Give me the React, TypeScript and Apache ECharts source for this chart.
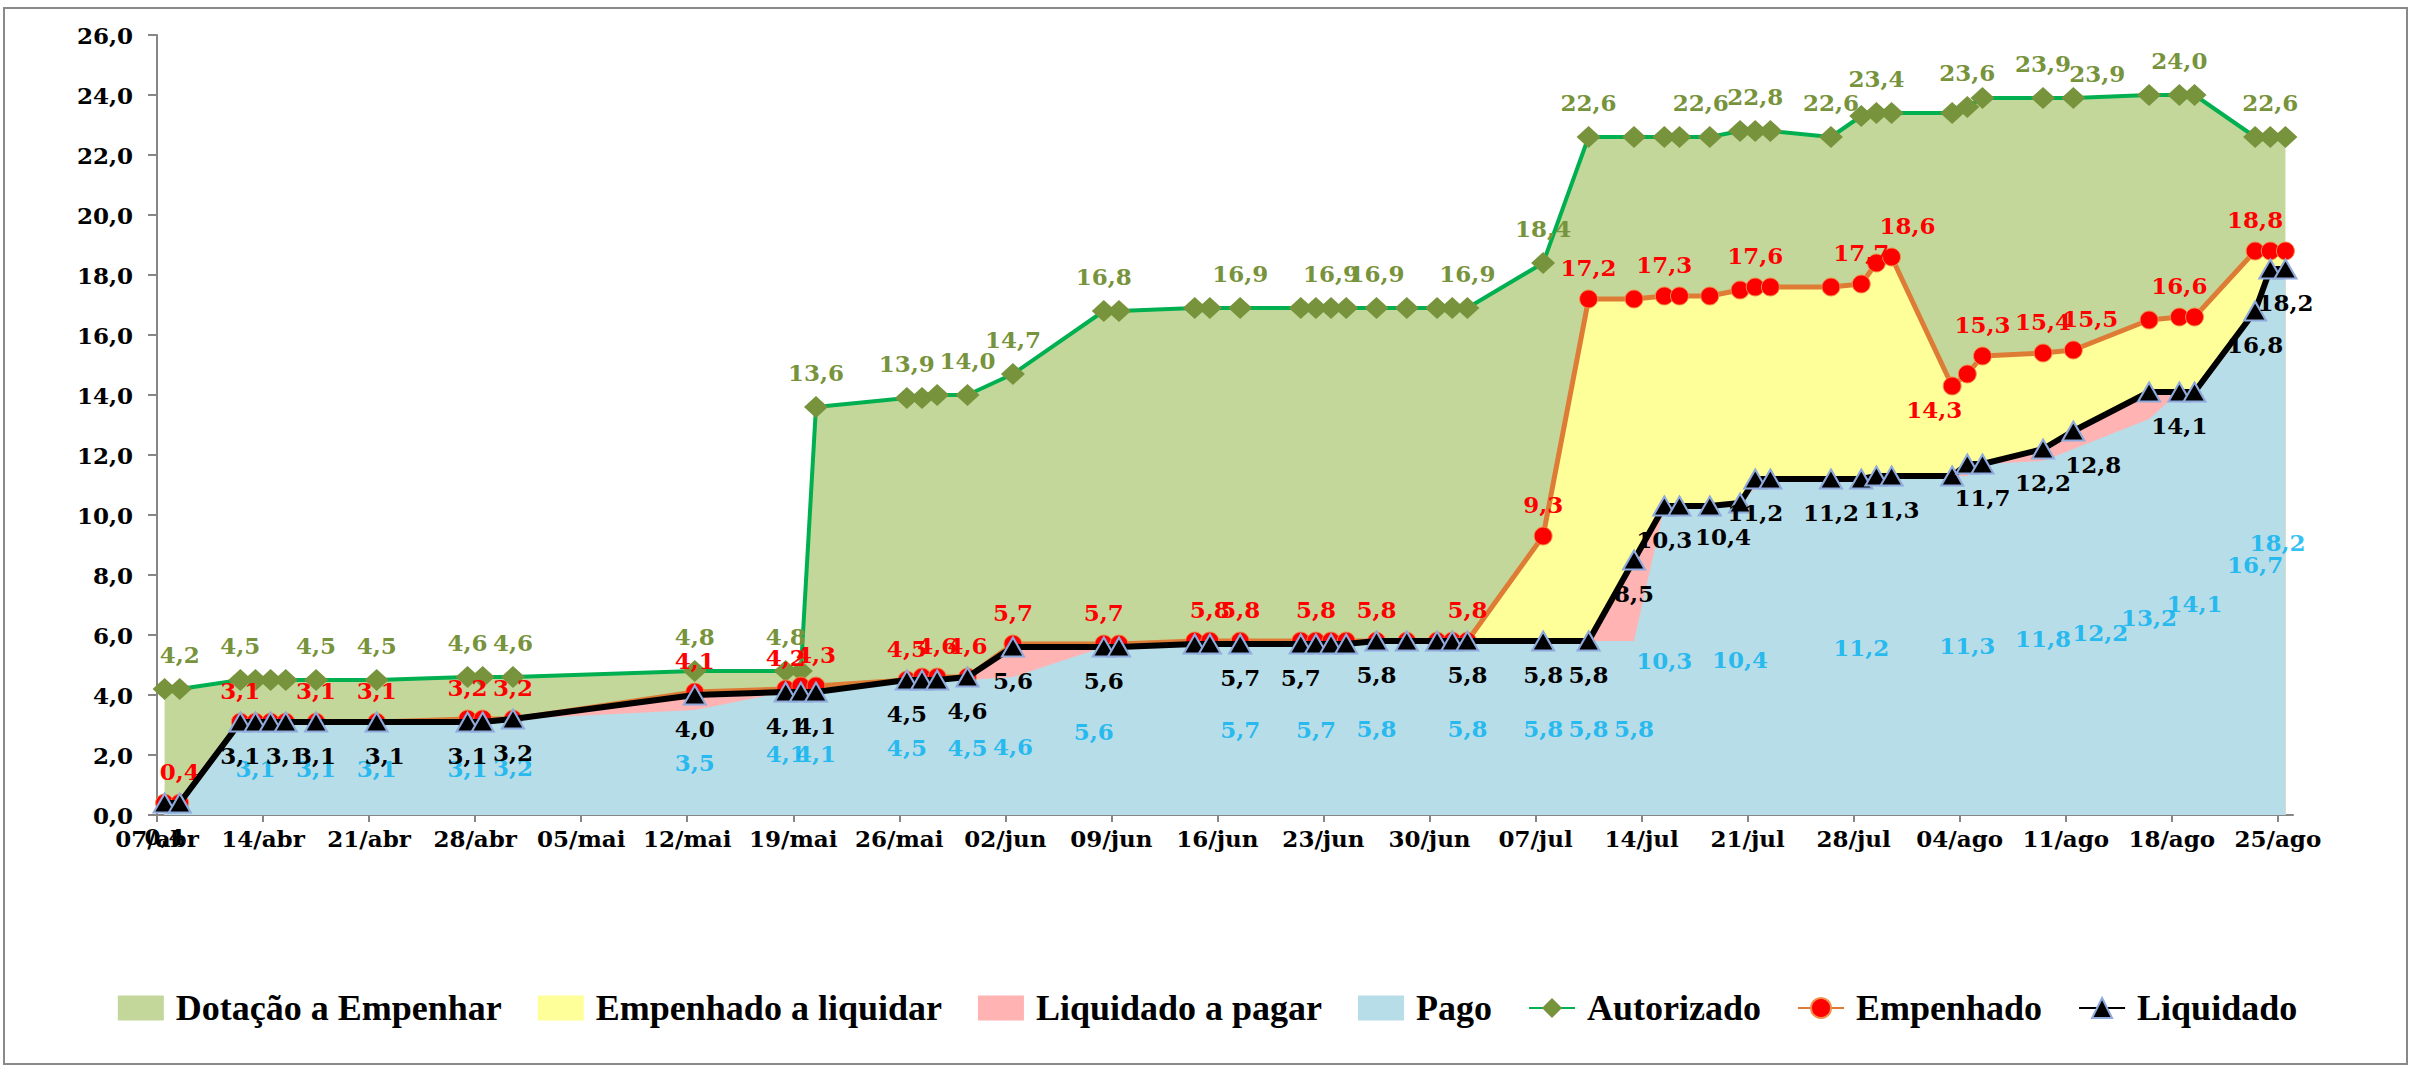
import React, { useEffect, useRef } from 'react';
import * as echarts from 'echarts';

// ---------- data ----------
const YEAR = 2025;
const axisStart = '04-07';
const axisEnd = '08-26';

const tickLabels = [
  '07/abr', '14/abr', '21/abr', '28/abr', '05/mai', '12/mai', '19/mai', '26/mai', '02/jun', '09/jun', '16/jun',
  '23/jun', '30/jun', '07/jul', '14/jul', '21/jul', '28/jul', '04/ago', '11/ago', '18/ago', '25/ago',
];

const pointDates = [
  '04-07', '04-08', '04-12', '04-13', '04-14', '04-15', '04-17', '04-21', '04-27', '04-28', '04-30',
  '05-12', '05-18', '05-19', '05-20', '05-26', '05-27', '05-28', '05-30',
  '06-02', '06-08', '06-09', '06-14', '06-15', '06-17', '06-21', '06-22', '06-23', '06-24', '06-26', '06-28', '06-30',
  '07-01', '07-02', '07-07', '07-10', '07-13', '07-15', '07-16', '07-18', '07-20', '07-21', '07-22', '07-26', '07-28', '07-29', '07-30',
  '08-03', '08-04', '08-05', '08-09', '08-11', '08-16', '08-18', '08-19', '08-23', '08-24', '08-25',
];

const autorizado = [
  4.2, 4.2, 4.5, 4.5, 4.5, 4.5, 4.5, 4.5, 4.6, 4.6, 4.6,
  4.8, 4.8, 4.8, 13.6, 13.9, 13.9, 14.0, 14.0,
  14.7, 16.8, 16.8, 16.9, 16.9, 16.9, 16.9, 16.9, 16.9, 16.9, 16.9, 16.9, 16.9,
  16.9, 16.9, 18.4, 22.6, 22.6, 22.6, 22.6, 22.6, 22.8, 22.8, 22.8, 22.6, 23.3, 23.4, 23.4,
  23.4, 23.6, 23.9, 23.9, 23.9, 24.0, 24.0, 24.0, 22.6, 22.6, 22.6,
];

const empenhado = [
  0.4, 0.4, 3.1, 3.1, 3.1, 3.1, 3.1, 3.1, 3.2, 3.2, 3.2,
  4.1, 4.2, 4.3, 4.3, 4.5, 4.6, 4.6, 4.6,
  5.7, 5.7, 5.7, 5.8, 5.8, 5.8, 5.8, 5.8, 5.8, 5.8, 5.8, 5.8, 5.8,
  5.8, 5.8, 9.3, 17.2, 17.2, 17.3, 17.3, 17.3, 17.5, 17.6, 17.6, 17.6, 17.7, 18.4, 18.6,
  14.3, 14.7, 15.3, 15.4, 15.5, 16.5, 16.6, 16.6, 18.8, 18.8, 18.8,
];

const liquidado = [
  0.4, 0.4, 3.1, 3.1, 3.1, 3.1, 3.1, 3.1, 3.1, 3.1, 3.2,
  4.0, 4.1, 4.1, 4.1, 4.5, 4.5, 4.5, 4.6,
  5.6, 5.6, 5.6, 5.7, 5.7, 5.7, 5.7, 5.7, 5.7, 5.7, 5.8, 5.8, 5.8,
  5.8, 5.8, 5.8, 5.8, 8.5, 10.3, 10.3, 10.3, 10.4, 11.2, 11.2, 11.2, 11.2, 11.3, 11.3,
  11.3, 11.7, 11.7, 12.2, 12.8, 14.1, 14.1, 14.1, 16.8, 18.2, 18.2,
];

const pago = [
  0.4, 0.4, 3.1, 3.1, 3.1, 3.1, 3.1, 3.1, 3.1, 3.1, 3.2,
  3.5, 4.1, 4.1, 4.1, 4.5, 4.5, 4.5, 4.5,
  4.6, 5.6, 5.6, 5.7, 5.7, 5.7, 5.7, 5.7, 5.7, 5.7, 5.8, 5.8, 5.8,
  5.8, 5.8, 5.8, 5.8, 5.8, 10.3, 10.3, 10.3, 10.4, 10.9, 11.2, 11.2, 11.2, 11.3, 11.3,
  11.3, 11.3, 11.7, 11.8, 12.2, 13.2, 14.1, 14.1, 16.7, 18.2, 18.2,
];

// points whose value is written on the chart
const autorizadoLabelDates = [
  '04-08', '04-12', '04-17', '04-21', '04-27', '04-30', '05-12', '05-18', '05-20', '05-26', '05-30', '06-02',
  '06-08', '06-17', '06-23', '06-26', '07-02', '07-07', '07-10', '07-18', '07-21', '07-26', '07-29', '08-04',
  '08-09', '08-11', '08-18', '08-24',
];
const empenhadoLabelDates = [
  '04-08', '04-12', '04-17', '04-21', '04-27', '04-30', '05-12', '05-18', '05-20', '05-26', '05-28', '05-30',
  '06-02', '06-08', '06-15', '06-17', '06-22', '06-26', '07-02', '07-07', '07-10', '07-15', '07-21', '07-28',
  '07-30', '08-03', '08-05', '08-09', '08-11', '08-18', '08-23',
];
const liquidadoLabelDates = [
  '04-07', '04-12', '04-15', '04-17', '04-21', '04-27', '04-30', '05-12', '05-18', '05-20', '05-26', '05-30',
  '06-02', '06-08', '06-17', '06-21', '06-26', '07-02', '07-07', '07-10', '07-13', '07-15', '07-20', '07-21',
  '07-26', '07-30', '08-05', '08-09', '08-11', '08-18', '08-23', '08-25',
];
const pagoLabelDates = [
  '04-13', '04-17', '04-21', '04-27', '04-30', '05-12', '05-18', '05-20', '05-26', '05-30', '06-02', '06-08',
  '06-17', '06-22', '06-26', '07-02', '07-07', '07-10', '07-13', '07-15', '07-20', '07-28', '08-04', '08-09',
  '08-11', '08-16', '08-19', '08-23', '08-25',
];

// ---------- layout / style ----------
const labelNudges: Record<string, number[]> = {
  'aut:08-11': [24, 10],
  'aut:07-18': [-9, 0],
  'emp:07-30': [16, 0],
  'emp:08-03': [-18, 0],
  'emp:08-11': [17, 0],
  'liq:07-20': [-17, 0],
  'liq:08-11': [20, 0],
  'liq:04-21': [8, 0],
  'pago:08-11': [27, 0],
  'pago:06-08': [-10, 0],
  'pago:08-25': [-8, 0],
};
const labelBelow: Record<string, boolean> = { 'emp:08-03': true };

const NUM_FONT = { fontFamily: '"DejaVu Serif", serif', fontWeight: 'bold' as const, fontSize: 23 };
const fmt = (v: number) => v.toFixed(1).replace('.', ',');

const dayOf = (md: string) => {
  const [m, d] = md.split('-').map(Number);
  const [m0, d0] = axisStart.split('-').map(Number);
  return (Date.UTC(YEAR, m - 1, d) - Date.UTC(YEAR, m0 - 1, d0)) / 86400000;
};

export default function App() {
  const ref = useRef<HTMLDivElement>(null);

  useEffect(() => {
    document.body.style.margin = '0';
    if (!ref.current) return;
    const chart = echarts.init(ref.current, undefined, { renderer: 'svg' });

    const xs = pointDates.map((d) => dayOf(d) + 0.5);

    const lineData = (vals: number[], labelDates: string[], key: string) =>
      vals.map((v, i) => {
        const d = pointDates[i];
        const item: any = { value: [xs[i], v] };
        if (labelDates.includes(d)) {
          const lab: any = { show: true };
          const n = labelNudges[key + ':' + d];
          if (n) lab.offset = n;
          if (labelBelow[key + ':' + d]) {
            lab.position = 'bottom';
            lab.distance = 2;
          }
          item.label = lab;
        }
        return item;
      });

    // Each band is filled from the axis up to its upper bound; later bands cover the lower part,
    // so the visible band equals the difference between consecutive cumulative totals.
    const areaSeries = (name: string, color: string, upper: number[]) => ({
      name,
      type: 'line',
      data: upper.map((v, i) => [xs[i], v]),
      symbol: 'none',
      showSymbol: false,
      color,
      itemStyle: { color },
      lineStyle: { width: 0, color },
      areaStyle: { color, opacity: 1 },
      z: 1,
      silent: true,
    });

    const pagoLabelData = pointDates
      .map((d, i) => ({ d, i }))
      .filter(({ d }) => pagoLabelDates.includes(d))
      .map(({ d, i }) => {
        const n = labelNudges['pago:' + d];
        const item: any = { value: [xs[i], pago[i] / 2, pago[i]] };
        if (n) item.label = { offset: n };
        return item;
      });

    const xMax = dayOf(axisEnd);
    const tickValues = tickLabels.map((_, i) => i * 7);

    chart.setOption({
      animation: false,
      graphic: [
        {
          type: 'rect',
          shape: { x: 4, y: 8, width: 2403, height: 1056 },
          style: { fill: 'none', stroke: '#898989', lineWidth: 2 },
          silent: true,
        },
      ],
      grid: { left: 157, top: 35, width: 2136, height: 780, containLabel: false },
      xAxis: {
        type: 'value',
        min: 0,
        max: xMax,
        interval: 7,
        splitLine: { show: false },
        axisLine: { show: true, lineStyle: { color: '#868686', width: 2 } },
        axisTick: { show: true, length: 7, customValues: tickValues, lineStyle: { color: '#868686', width: 2 } },
        axisLabel: {
          ...NUM_FONT,
          color: '#000',
          margin: 12,
          customValues: tickValues,
          formatter: (v: number) => tickLabels[Math.round(v / 7)] ?? '',
        },
      },
      yAxis: {
        type: 'value',
        min: 0,
        max: 26,
        interval: 2,
        splitLine: { show: false },
        axisLine: { show: true, lineStyle: { color: '#868686', width: 2 } },
        axisTick: { show: true, length: 9, lineStyle: { color: '#868686', width: 2 } },
        axisLabel: { ...NUM_FONT, color: '#000', margin: 24, formatter: (v: number) => fmt(v) },
      },
      legend: {
        left: 'center',
        top: 985,
        itemWidth: 46,
        itemHeight: 25,
        itemGap: 36,
        textStyle: {
          fontFamily: '"Liberation Serif", serif',
          fontWeight: 'bold',
          fontSize: 36,
          color: '#000',
          padding: [0, 0, 0, 7],
        },
        data: [
          { name: 'Dotação a Empenhar', icon: 'rect' },
          { name: 'Empenhado a liquidar', icon: 'rect' },
          { name: 'Liquidado a pagar', icon: 'rect' },
          { name: 'Pago', icon: 'rect' },
          { name: 'Autorizado' },
          { name: 'Empenhado' },
          { name: 'Liquidado' },
        ],
      },
      series: [
        areaSeries('Dotação a Empenhar', '#C4D79B', autorizado),
        areaSeries('Empenhado a liquidar', '#FFFF99', empenhado),
        areaSeries('Liquidado a pagar', '#FFB3B3', liquidado),
        areaSeries('Pago', '#B7DDE8', pago),
        {
          name: 'pagoLabels',
          type: 'scatter',
          data: pagoLabelData,
          symbolSize: 1,
          itemStyle: { color: 'rgba(0,0,0,0)' },
          silent: true,
          z: 2,
          label: {
            show: true,
            position: 'inside',
            ...NUM_FONT,
            color: '#00B0F0',
            formatter: (p: any) => fmt(p.value[2]),
          },
        },
        {
          name: 'Autorizado',
          type: 'line',
          data: lineData(autorizado, autorizadoLabelDates, 'aut'),
          symbol: 'diamond',
          symbolSize: [24, 22],
          lineStyle: { color: '#00B050', width: 4 },
          itemStyle: { color: '#77933C' },
          z: 3,
          label: {
            show: false,
            position: 'top',
            distance: 12,
            ...NUM_FONT,
            color: '#77933C',
            formatter: (p: any) => fmt(p.value[1]),
          },
        },
        {
          name: 'Empenhado',
          type: 'line',
          data: lineData(empenhado, empenhadoLabelDates, 'emp'),
          symbol: 'circle',
          symbolSize: 18,
          lineStyle: { color: '#DE7C36', width: 5 },
          itemStyle: { color: '#FF0000', borderColor: '#F0904A', borderWidth: 1 },
          z: 4,
          label: {
            show: false,
            position: 'top',
            distance: 11,
            ...NUM_FONT,
            color: '#FF0000',
            formatter: (p: any) => fmt(p.value[1]),
          },
        },
        {
          name: 'Liquidado',
          type: 'line',
          data: lineData(liquidado, liquidadoLabelDates, 'liq'),
          symbol: 'triangle',
          symbolSize: [22, 19],
          lineStyle: { color: '#000000', width: 6 },
          itemStyle: { color: '#000000', borderColor: '#8FAADC', borderWidth: 2 },
          z: 5,
          label: {
            show: false,
            position: 'bottom',
            distance: 12,
            ...NUM_FONT,
            color: '#000000',
            formatter: (p: any) => fmt(p.value[1]),
          },
        },
      ],
    });

    return () => chart.dispose();
  }, []);

  return <div ref={ref} style={{ width: 2415, height: 1075 }} />;
}
